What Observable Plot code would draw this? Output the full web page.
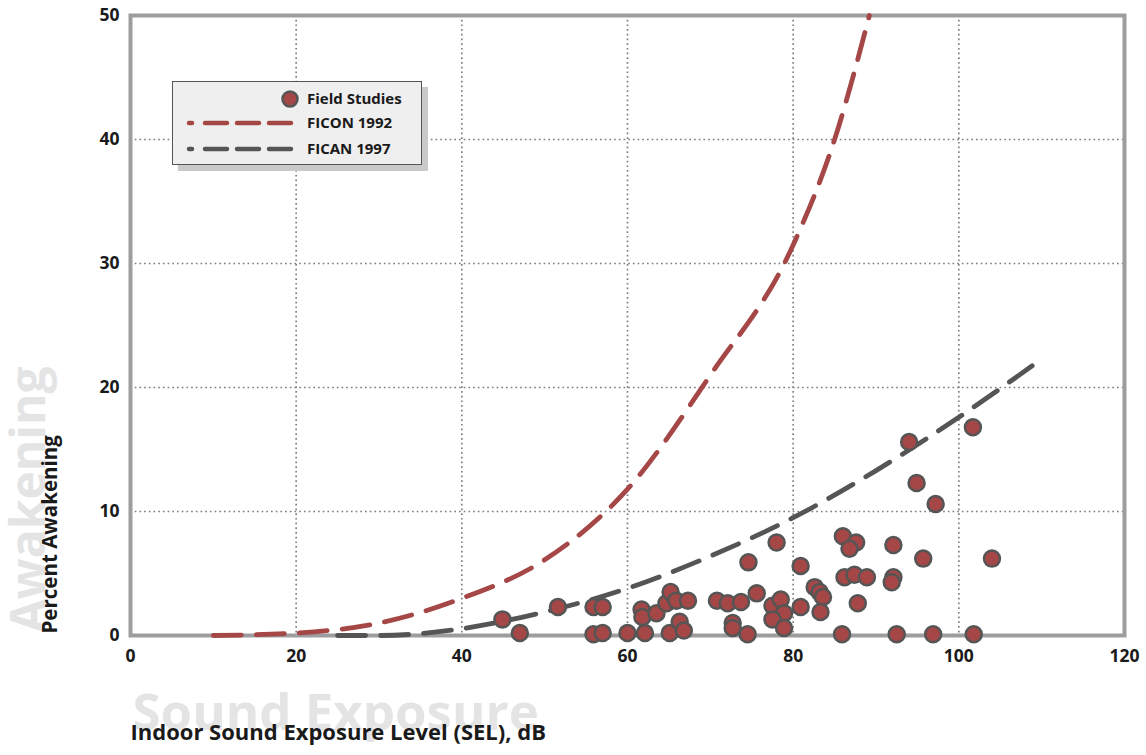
<!DOCTYPE html>
<html>
<head>
<meta charset="utf-8">
<script src="https://cdn.jsdelivr.net/npm/d3@7"></script>
<script src="https://cdn.jsdelivr.net/npm/@observablehq/plot@0.6"></script>
<style>
  html, body { margin: 0; padding: 0; background: #fff; }
  #wrap { position: relative; width: 1146px; height: 755px; overflow: hidden; }
  #legend { position: absolute; left: 172px; top: 81px; width: 248px; height: 82px;
    background: #efefef; border: 1px solid #555; box-shadow: 6px 6px 0 #c9c9c9; }
</style>
</head>
<body>
<div id="wrap"></div>
<script>
// ---- data ----
const xTicks = [0, 20, 40, 60, 80, 100, 120];
const yTicks = [0, 10, 20, 30, 40, 50];
const xGrid = [20, 40, 60, 80, 100];
const yGrid = [10, 20, 30, 40];

// Field studies: indoor SEL (dB) and percent awakening
const fieldSEL = [44.9, 47.0, 51.6, 55.9, 57.0, 55.9, 57.0, 60.0, 62.1, 61.7,
  61.8, 63.5, 64.7, 65.2, 65.9, 67.3, 65.1, 66.3, 66.8, 70.8,
  72.1, 73.7, 72.7, 72.7, 74.5, 75.6, 74.6, 78.0, 77.5, 78.5,
  78.9, 77.5, 78.9, 80.9, 80.9, 82.6, 83.2, 83.6, 83.3, 85.9,
  86.0, 87.6, 86.8, 86.2, 87.4, 88.9, 87.8, 92.1, 92.1, 91.9,
  92.5, 94.0, 94.9, 97.2, 95.7, 96.9, 101.7, 101.8, 104.0];
const fieldPct = [1.3, 0.2, 2.3, 2.3, 2.3, 0.1, 0.2, 0.2, 0.2, 2.1,
  1.5, 1.8, 2.6, 3.5, 2.8, 2.8, 0.2, 1.1, 0.4, 2.8,
  2.6, 2.7, 1.0, 0.6, 0.1, 3.4, 5.9, 7.5, 2.4, 2.9,
  1.8, 1.3, 0.6, 5.6, 2.3, 3.9, 3.5, 3.1, 1.9, 0.1,
  8.0, 7.5, 7.0, 4.7, 4.9, 4.7, 2.6, 7.3, 4.7, 4.3,
  0.1, 15.6, 12.3, 10.6, 6.2, 0.1, 16.8, 0.1, 6.2];

// FICON 1992 curve
const ficonSEL = [10, 20, 30, 40, 50, 60, 70, 80, 85, 89.2];
const ficonPct = [0, 0.2, 1.0, 3.0, 6.1, 11.8, 21.0, 31.5, 40.0, 50.0];

// FICAN 1997 curve
const ficanSEL = [25, 30, 35, 40, 50, 60, 70, 80, 90, 100, 110];
const ficanPct = [0, 0, 0.15, 0.55, 1.9, 3.8, 6.4, 9.5, 13.3, 17.6, 22.3];

const legendLabels = ["Field Studies", "FICON 1992", "FICAN 1997"];
const xTitle = "Indoor Sound Exposure Level (SEL), dB";
const yTitle = "Percent Awakening";
const xWater = "Sound Exposure";
const yWater = "Awakening";

// ---- styles ----
const RED = "#a54747";
const GREY = "#555555";
const FRAME = "#9d9d9f";
const WATER = "#e4e4e5";
const FONT = "'Open Sans', 'DejaVu Sans', sans-serif";

const field = fieldSEL.map((x, i) => ({x, y: fieldPct[i]}));
const ficon = ficonSEL.map((x, i) => ({x, y: ficonPct[i]}));
const fican = ficanSEL.map((x, i) => ({x, y: ficanPct[i]}));

const chart = Plot.plot({
  width: 1146,
  height: 755,
  marginLeft: 130,
  marginRight: 22,
  marginTop: 15,
  marginBottom: 120,
  style: {fontFamily: FONT, fontSize: "17px", fontWeight: "bold", color: "#1a1a1a", background: "transparent"},
  x: {domain: [0, 120]},
  y: {domain: [0, 50]},
  marks: [
    // watermarks
    Plot.text([xWater], {frameAnchor: "bottom-left", textAnchor: "start", dx: 2, dy: 94,
      fontSize: 51, fontWeight: "bold", fill: WATER}),
    Plot.text([yWater], {frameAnchor: "bottom-left", textAnchor: "start", rotate: -90, dx: -86, dy: -3,
      fontSize: 48, fontWeight: "bold", fill: WATER}),
    // grid
    Plot.gridX(xGrid, {stroke: "#808080", strokeOpacity: 1, strokeWidth: 1.7, strokeDasharray: "1.7,3"}),
    Plot.gridY(yGrid, {stroke: "#808080", strokeOpacity: 1, strokeWidth: 1.7, strokeDasharray: "1.7,3"}),
    Plot.frame({stroke: FRAME, strokeWidth: 4}),
    // axes
    Plot.axisX(xTicks, {tickSize: 0, tickPadding: 14, fontSize: 17.5, fontWeight: "bold", fill: "#1a1a1a", label: null}),
    Plot.axisY(yTicks, {tickSize: 0, tickPadding: 11, fontSize: 17.5, fontWeight: "bold", fill: "#1a1a1a", label: null}),
    // curves
    Plot.line(ficon, {x: "x", y: "y", stroke: RED, strokeWidth: 4.8, strokeDasharray: "28,15",
      strokeLinecap: "round", curve: "monotone-x"}),
    Plot.line(fican, {x: "x", y: "y", stroke: GREY, strokeWidth: 4.8, strokeDasharray: "28,15",
      strokeLinecap: "round", curve: "monotone-x"}),
    // points
    Plot.dot(field, {x: "x", y: "y", r: 8, fill: RED, stroke: GREY, strokeWidth: 2.5}),
    // titles
    Plot.text([xTitle], {frameAnchor: "bottom-left", textAnchor: "start", dx: 0, dy: 104,
      fontSize: 22, fontWeight: "bold", fill: "#1a1a1a"}),
    Plot.text([yTitle], {frameAnchor: "bottom-left", textAnchor: "start", rotate: -90, dx: -74, dy: -2,
      fontSize: 20.5, fontWeight: "bold", fill: "#1a1a1a"})
  ]
});

const wrap = document.getElementById("wrap");
wrap.appendChild(chart);

// legend
const legend = document.createElement("div");
legend.id = "legend";
const ns = "http://www.w3.org/2000/svg";
const lsvg = document.createElementNS(ns, "svg");
lsvg.setAttribute("width", 248);
lsvg.setAttribute("height", 82);
lsvg.style.fontFamily = FONT;
lsvg.style.fontWeight = "bold";
const rows = [
  {type: "dot", color: RED, label: legendLabels[0], y: 17},
  {type: "line", color: RED, label: legendLabels[1], y: 41},
  {type: "line", color: GREY, label: legendLabels[2], y: 67}
];
rows.forEach(r => {
  if (r.type === "dot") {
    const c = document.createElementNS(ns, "circle");
    c.setAttribute("cx", 117); c.setAttribute("cy", r.y); c.setAttribute("r", 7.5);
    c.setAttribute("fill", RED); c.setAttribute("stroke", GREY); c.setAttribute("stroke-width", 2.5);
    lsvg.appendChild(c);
  } else {
    const l = document.createElementNS(ns, "line");
    l.setAttribute("x1", 16); l.setAttribute("x2", 120); l.setAttribute("y1", r.y); l.setAttribute("y2", r.y);
    l.setAttribute("stroke", r.color); l.setAttribute("stroke-width", 4.5);
    l.setAttribute("stroke-linecap", "round");
    l.setAttribute("stroke-dasharray", "3,13,22,10,22,10,22,10,22");
    lsvg.appendChild(l);
  }
  const t = document.createElementNS(ns, "text");
  t.setAttribute("x", 134); t.setAttribute("y", r.y); t.setAttribute("dy", "0.35em");
  t.setAttribute("font-size", 15); t.setAttribute("fill", "#1a1a1a");
  t.textContent = r.label;
  lsvg.appendChild(t);
});
legend.appendChild(lsvg);
wrap.appendChild(legend);
</script>
</body>
</html>
